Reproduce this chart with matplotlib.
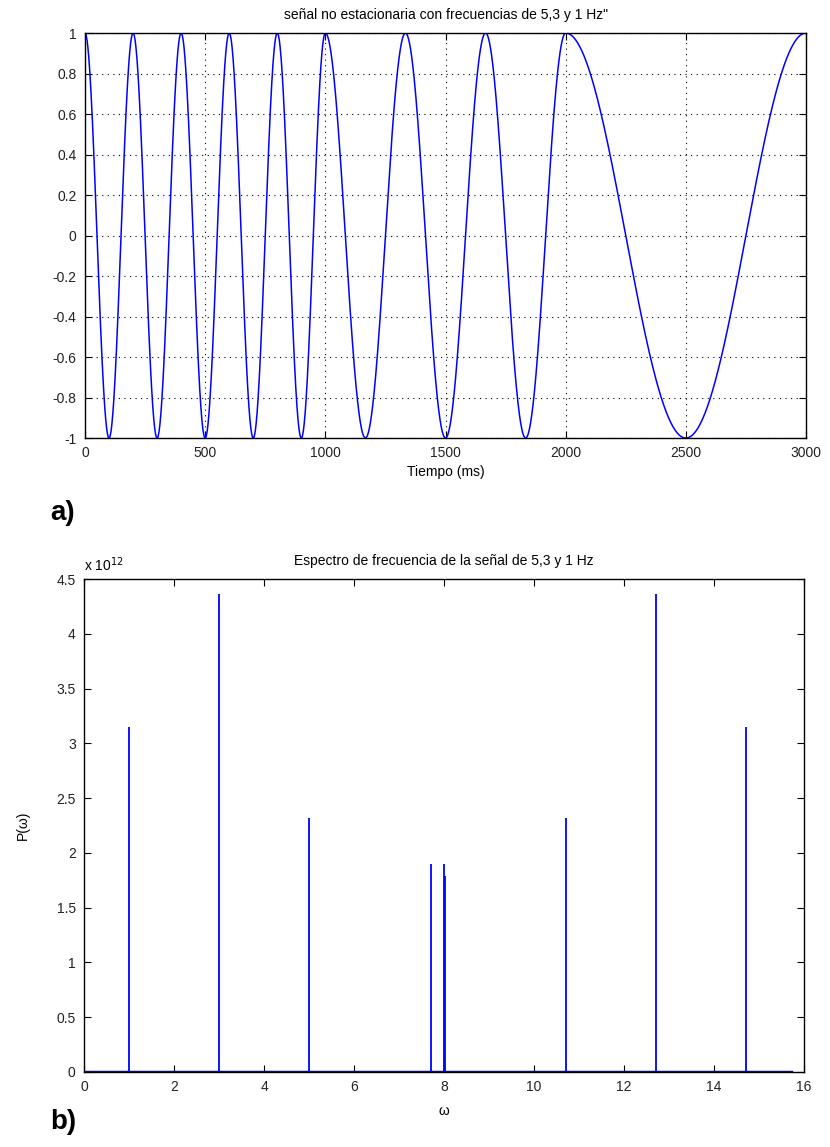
import numpy as np
import matplotlib
matplotlib.use("Agg")
import matplotlib.pyplot as plt
from matplotlib.ticker import FuncFormatter

# top panel: piecewise signal, segment edges in ms and frequency per segment
segment_edges_ms = [0, 1000, 2000, 3000]
segment_freqs_hz = [5, 3, 1]

# bottom panel: spectral lines (omega, power in units of 1e12)
spec_omega = [1.0, 3.0, 5.0, 7.72, 8.0, 8.03, 10.72, 12.72, 14.72]
spec_power = [3.15, 4.36, 2.32, 1.90, 1.90, 1.79, 2.32, 4.36, 3.15]
spec_end = 15.72
power_scale = 1e12

plt.rcParams["font.family"] = ["Liberation Sans", "DejaVu Sans"]


def fmt(v, p):
    v = round(v, 1) + 0.0
    return "%g" % v if v != 0 else "0"


fig = plt.figure(figsize=(8.3, 11.47), dpi=100)

# ---- a) time signal
ax1 = fig.add_axes([0.1024, 0.6181, 0.8687, 0.3531])
t_parts = []
y_parts = []
for i, f in enumerate(segment_freqs_hz):
    t = np.arange(segment_edges_ms[i], segment_edges_ms[i + 1] + 1)
    t_parts.append(t)
    y_parts.append(np.cos(2 * np.pi * f * t / 1000.0))
t_all = np.concatenate(t_parts)
y_all = np.concatenate(y_parts)
ax1.plot(t_all, y_all, color="blue", lw=1.1)
ax1.set_xlim(0, 3000)
ax1.set_ylim(-1, 1)
ax1.set_xticks(np.arange(0, 3001, 500))
ax1.set_yticks(np.arange(-1, 1.01, 0.2))
ax1.yaxis.set_major_formatter(FuncFormatter(fmt))
ax1.grid(True, color="black", linestyle=(0, (1, 4)), lw=0.8)
ax1.set_title("señal no estacionaria con frecuencias de 5,3 y 1 Hz\"", fontsize=10, pad=10)
ax1.set_xlabel("Tiempo (ms)", fontsize=10, labelpad=3)

# ---- b) spectrum
ax2 = fig.add_axes([0.1012, 0.0654, 0.8675, 0.4298])
ax2.plot([0, spec_end], [0, 0], color="blue", lw=2.5)
ax2.vlines(spec_omega, 0, np.array(spec_power) * power_scale, color="blue", lw=1.3)
ax2.set_xlim(0, 16)
ax2.set_ylim(0, 4.5 * power_scale)
ax2.set_xticks(np.arange(0, 17, 2))
ax2.set_yticks(np.arange(0, 4.51, 0.5) * power_scale)
ax2.yaxis.set_major_formatter(FuncFormatter(lambda v, p: fmt(v / power_scale, p)))
ax2.set_title("Espectro de frecuencia de la señal de 5,3 y 1 Hz", fontsize=10, pad=10)
ax2.set_xlabel("ω", fontsize=10, labelpad=7)
ax2.set_ylabel("P(ω)", fontsize=10, labelpad=19)
ax2.text(0.0, 1.01, "x 10$^{12}$", transform=ax2.transAxes, fontsize=10,
         ha="left", va="bottom")

for ax in (ax1, ax2):
    ax.tick_params(direction="in", top=True, right=True, length=5, labelsize=10,
                   colors="black", labelcolor="#222222", pad=6)
    for s in ax.spines.values():
        s.set_linewidth(1.0)

fig.text(0.06, 0.553, "a)", fontsize=20, fontweight="bold", ha="left", va="center")
fig.text(0.06, 0.022, "b)", fontsize=20, fontweight="bold", ha="left", va="center")

fig.savefig("out.png", dpi=100)
